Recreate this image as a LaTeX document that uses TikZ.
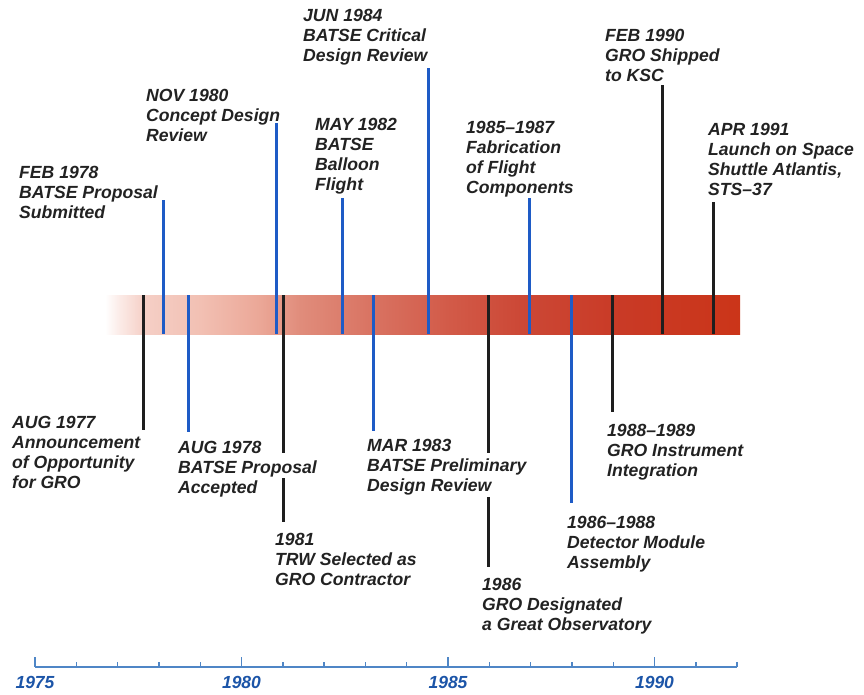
\documentclass[tikz,border=0pt]{standalone}
\usepackage{fontspec}
\setmainfont{Liberation Sans}
\definecolor{evblue}{HTML}{1E5BC6}
\definecolor{evblack}{HTML}{1E1E1E}
\definecolor{txt}{HTML}{222222}
\definecolor{axblue}{HTML}{4F86C6}
\definecolor{yrblue}{HTML}{1C55A8}
\definecolor{s1}{HTML}{FBEAE6}
\definecolor{s2}{HTML}{F5CFC6}
\definecolor{s3}{HTML}{F2C0B3}
\definecolor{s4}{HTML}{EBA797}
\definecolor{s5}{HTML}{E08C7B}
\definecolor{s6}{HTML}{D8705F}
\definecolor{s7}{HTML}{D25A48}
\definecolor{s8}{HTML}{CC4836}
\definecolor{s9}{HTML}{C93A26}
\definecolor{s10}{HTML}{CB3519}
\pgfdeclarehorizontalshading{barshade}{100bp}{color(0bp)=(white); color(25bp)=(white); color(26.2bp)=(s1); color(28.1bp)=(s2); color(32.5bp)=(s3); color(37.2bp)=(s4); color(40.4bp)=(s5); color(46.7bp)=(s6); color(52.2bp)=(s7); color(57.7bp)=(s8); color(65.6bp)=(s9); color(75bp)=(s10); color(100bp)=(s10)}
\tikzset{
  lab/.style={anchor=base west, align=left, inner sep=0pt, font=\fontsize{17.6}{20}\selectfont\bfseries\itshape, text=txt},
  yr/.style={anchor=base, inner sep=0pt, font=\fontsize{17.5}{20}\selectfont\bfseries\itshape, text=yrblue},
  bl/.style={evblue, line width=3pt},
  bk/.style={evblack, line width=3pt},
  axisline/.style={axblue, line width=1.4pt},
}
\begin{document}
\begin{tikzpicture}[x=1pt,y=-1pt]
\useasboundingbox (0,0) rectangle (864,694);
% bar
\shade[shading=barshade] (105,295) rectangle (740,334);

% labels (anchored at the baseline of their last line)
\node[lab] (a77) at (12,488) {AUG 1977\\Announcement\\of Opportunity\\for GRO};
\node[lab] (f78) at (19,218) {FEB 1978\\BATSE Proposal\\Submitted};
\node[lab] (a78) at (178,493) {AUG 1978\\BATSE Proposal\\Accepted};
\node[lab] (n80) at (146,141) {NOV 1980\\Concept Design\\Review};
\node[lab] (t81) at (275,585) {1981\\TRW Selected as\\GRO Contractor};
\node[lab] (m82) at (315,190) {MAY 1982\\BATSE\\Balloon\\Flight};
\node[lab] (m83) at (367,491) {MAR 1983\\BATSE Preliminary\\Design Review};
\node[lab] (j84) at (303,61) {JUN 1984\\BATSE Critical\\Design Review};
\node[lab] (f85) at (466,193) {1985–1987\\Fabrication\\of Flight\\Components};
\node[lab] (g86) at (482,630) {1986\\GRO Designated\\a Great Observatory};
\node[lab] (d86) at (567,568) {1986–1988\\Detector Module\\Assembly};
\node[lab] (i88) at (607,476) {1988–1989\\GRO Instrument\\Integration};
\node[lab] (s90) at (605,81) {FEB 1990\\GRO Shipped\\to KSC};
\node[lab] (l91) at (708,195) {APR 1991\\Launch on Space\\Shuttle Atlantis,\\STS–37};

% event lines
\coordinate (a77t) at (143,295); \coordinate (a77b) at (143,430);
\coordinate (f78t) at (163,200); \coordinate (f78b) at (163,334);
\coordinate (a78t) at (188,295); \coordinate (a78b) at (188,432);
\coordinate (n80t) at (276,123); \coordinate (n80b) at (276,334);
\coordinate (t81t) at (283,295); \coordinate (t81m1) at (283,453);
\coordinate (t81m2) at (283,478); \coordinate (t81b) at (283,522);
\coordinate (m82t) at (342,198); \coordinate (m82b) at (342,334);
\coordinate (m83t) at (373,295); \coordinate (m83b) at (373,431);
\coordinate (j84t) at (428,68);  \coordinate (j84b) at (428,334);
\coordinate (f85t) at (529,198); \coordinate (f85b) at (529,334);
\coordinate (g86t) at (488,295); \coordinate (g86m1) at (488,453);
\coordinate (g86m2) at (488,497); \coordinate (g86b) at (488,567);
\coordinate (d86t) at (571,295); \coordinate (d86b) at (571,503);
\coordinate (i88t) at (612,295); \coordinate (i88b) at (612,412);
\coordinate (s90t) at (662,85);  \coordinate (s90b) at (662,334);
\coordinate (l91t) at (713,202); \coordinate (l91b) at (713,334);

\draw[bk] (a77t) -- (a77b);
\draw[bl] (f78t) -- (f78b);
\draw[bl] (a78t) -- (a78b);
\draw[bl] (n80t) -- (n80b);
\draw[bk] (t81t) -- (t81m1);
\draw[bk] (t81m2) -- (t81b);
\draw[bl] (m82t) -- (m82b);
\draw[bl] (m83t) -- (m83b);
\draw[bl] (j84t) -- (j84b);
\draw[bl] (f85t) -- (f85b);
\draw[bk] (g86t) -- (g86m1);
\draw[bk] (g86m2) -- (g86b);
\draw[bl] (d86t) -- (d86b);
\draw[bk] (i88t) -- (i88b);
\draw[bk] (s90t) -- (s90b);
\draw[bk] (l91t) -- (l91b);

% axis
\coordinate (ax0) at (35,667);
\coordinate (ax1) at (737.1,667);
\draw[axisline] (ax0) -- (ax1);
\foreach \i in {0,...,17} {
  \pgfmathsetmacro{\xx}{35+\i*41.3}
  \pgfmathtruncatemacro{\mj}{mod(\i,5)==0 ? 1 : 0}
  \ifnum\mj=1
    \draw[axisline] (\xx,657) -- (\xx,667);
  \else
    \draw[axisline] (\xx,662) -- (\xx,667);
  \fi
}
\node[yr] (y75) at (35,688) {1975};
\node[yr] (y80) at (241.5,688) {1980};
\node[yr] (y85) at (448,688) {1985};
\node[yr] (y90) at (654.5,688) {1990};
\end{tikzpicture}
\end{document}
